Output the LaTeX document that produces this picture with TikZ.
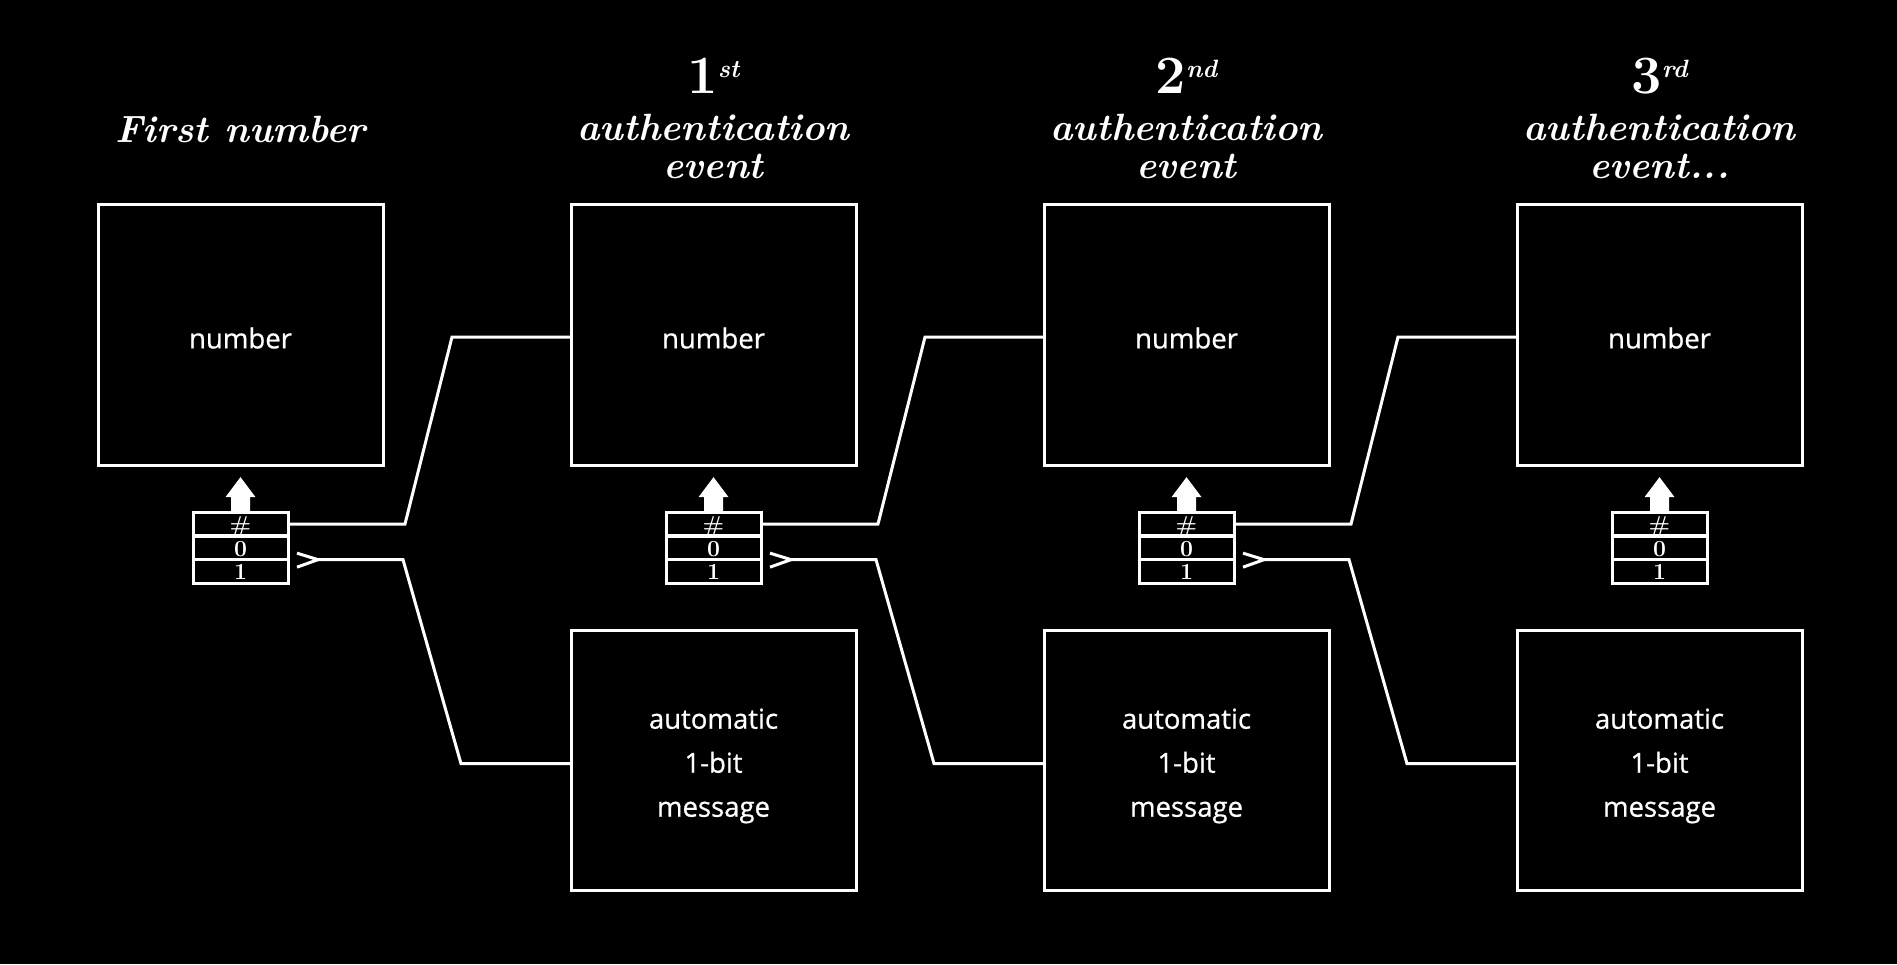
\documentclass[tikz,border=0pt]{standalone}
\usepackage{fontspec}
\newfontfamily\bodysans[FakeBold=0.7]{Open Sans}
\begin{document}
\begin{tikzpicture}[x=1pt,y=-1pt,line width=3pt,
  box/.style={draw=white,minimum width=285pt,minimum height=261pt,inner sep=0pt,outer sep=0pt,
    font=\bodysans\fontsize{27.5}{44}\selectfont,text=white,align=center},
  cell/.style={draw=white,minimum width=95pt,minimum height=23.7pt,inner sep=0pt,outer sep=0pt,
    text height=16pt,text depth=0pt,font=\bfseries\fontsize{23}{23}\selectfont,text=white},
  wire/.style={draw=white,line width=3pt,line join=miter},
  title/.style={text=white,font=\bfseries\itshape\fontsize{38}{38}\selectfont,anchor=base,inner sep=0pt},
  ordnum/.style={text=white,anchor=base,inner sep=0pt},
  upblock/.style={fill=white,draw=none}
]
\fill[black] (0,0) rectangle (1897,964);
\useasboundingbox (0,0) rectangle (1897,964);

% titles
\node[title] (title0) at (240.5,142) {First number};
\foreach \i/\o in {1/st,2/nd,3/rd}{
  \pgfmathsetmacro{\cx}{240.5+473*\i}
  \node[ordnum] (ord\i) at (\cx,93) {\fontsize{54}{54}\selectfont\bfseries \i\raisebox{16pt}{\fontsize{25}{25}\selectfont\itshape \o}};
  \node[title] (auth\i) at (\cx,140) {authentication};
}
\node[title] (ev1) at (713.5,178) {event};
\node[title] (ev2) at (1186.5,178) {event};
\node[title] (ev3) at (1659.5,178) {event...};

% upper boxes and registers
\foreach \i in {0,1,2,3}{
  \pgfmathsetmacro{\cx}{240.5+473*\i}
  \node[box] (ub\i) at (\cx,334.5) {\rule{0pt}{28pt}number};
  \node[cell] (ra\i) at (\cx,524) {\#};
  \node[cell] (rb\i) at (\cx,548) {0};
  \node[cell] (rc\i) at (\cx,571.5) {1};
  \fill[upblock,shift={(ra\i.north)}] (-9.5,1) -- (-9.5,-15) -- (-15,-15) -- (0,-35) -- (15,-15) -- (9.5,-15) -- (9.5,1) -- cycle;
}

% lower boxes
\foreach \i in {1,2,3}{
  \pgfmathsetmacro{\cx}{240.5+473*\i}
  \node[box,minimum height=260pt] (lb\i) at (\cx,760) {\rule{0pt}{32pt}automatic\\1-bit\\message};
}

% connectors
\foreach \i/\j in {0/1,1/2,2/3}{
  \draw[wire] (ra\i.east) -- ++(117,0) -- ++(47,-187) coordinate (tk\i) -- (tk\i -| ub\j.west);
  \path (rc\i.north east) ++(30,0) coordinate (ch\i);
  \draw[wire] (ch\i) ++(-21,-6.5) -- (ch\i) -- ++(-21,7.5);
  \draw[wire] (ch\i) -- ++(85,0) -- ++(58,204) coordinate (bk\i) -- (bk\i -| lb\j.west);
}
\end{tikzpicture}
\end{document}
